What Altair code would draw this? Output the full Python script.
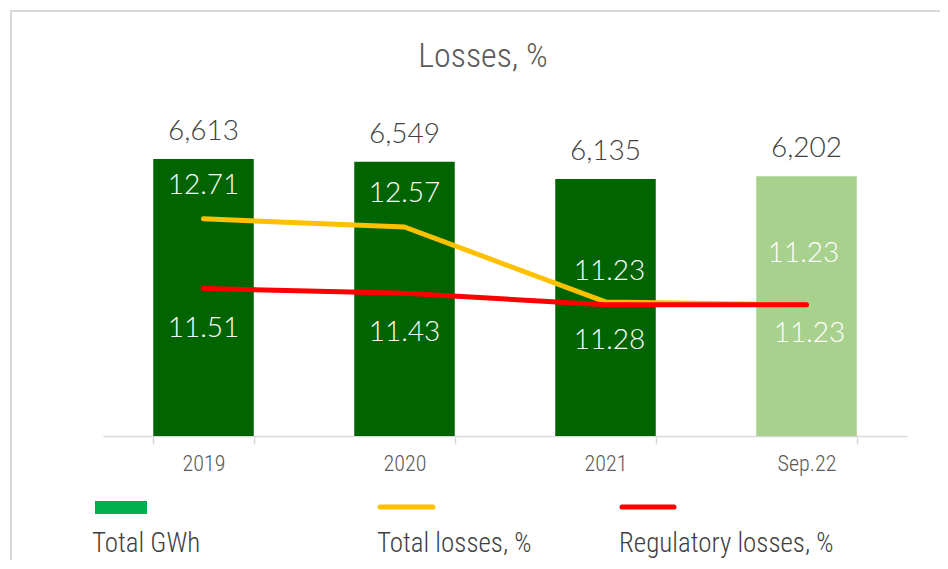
import altair as alt
import pandas as pd

categories = ["2019", "2020", "2021", "Sep.22"]
total_gwh = [6613, 6549, 6135, 6202]
total_losses = [12.71, 12.57, 11.28, 11.23]
regulatory_losses = [11.51, 11.43, 11.23, 11.23]
legend_labels = ["Total GWh", "Total losses, %", "Regulatory losses, %"]
title_text = "Losses, %"

df = pd.DataFrame({
    "cat": categories,
    "gwh": total_gwh,
    "total": total_losses,
    "reg": regulatory_losses,
})
one = pd.DataFrame({"k": [0]})

TEXT_FONT = "Liberation Sans Narrow, Roboto Condensed, Open Sans, sans-serif"
NUM_FONT = "Lato, Open Sans, sans-serif"

x_enc = alt.X(
    "cat:N",
    sort=categories,
    scale=alt.Scale(paddingInner=0.5, paddingOuter=0.25),
    axis=alt.Axis(
        title=None, labelAngle=0, tickBand="extent",
        domainColor="#D9D9D9", domainWidth=1.5, tickColor="#D9D9D9", tickWidth=1.5,
        tickSize=8, labelFont=TEXT_FONT, labelFontSize=22, labelFontWeight=300,
        labelColor="#595959", labelPadding=9,
    ),
)

y_bar = alt.Y("gwh:Q", scale=alt.Scale(domain=[0, 8000]), axis=None)
line_scale = alt.Scale(domain=[8.97, 14.74], zero=False)

base = alt.Chart(df)

bars = base.mark_bar().encode(
    x=x_enc,
    y=y_bar,
    color=alt.condition(alt.datum.cat == "Sep.22", alt.value("#A9D18E"), alt.value("#006400")),
)
bar_labels = base.mark_text(
    dy=-19, baseline="alphabetic", fontSize=28, font=NUM_FONT, fontWeight=300, color="#404040"
).encode(x=x_enc, y=y_bar, text=alt.Text("gwh:Q", format=","))

line_total = base.mark_line(color="#FFC000", strokeWidth=5, strokeCap="round", strokeJoin="round").encode(
    x=x_enc, y=alt.Y("total:Q", scale=line_scale, axis=None)
)
line_reg = base.mark_line(color="#FF0000", strokeWidth=5, strokeCap="round", strokeJoin="round").encode(
    x=x_enc, y=alt.Y("reg:Q", scale=line_scale, axis=None)
)


def line_label(field, cats, dy, dx=0):
    return base.transform_filter(
        alt.FieldOneOfPredicate(field="cat", oneOf=cats)
    ).mark_text(
        dy=dy, dx=dx, baseline="alphabetic", fontSize=28, font=NUM_FONT, fontWeight=300, color="white"
    ).encode(
        x=x_enc,
        y=alt.Y(f"{field}:Q", scale=line_scale, axis=None),
        text=alt.Text(f"{field}:Q", format=".2f"),
    )


labels = [
    line_label("total", ["2019", "2020"], -25),
    line_label("total", ["2021"], 47, 4),
    line_label("total", ["Sep.22"], 37, 3),
    line_label("reg", ["2019", "2020"], 48),
    line_label("reg", ["2021"], -25, 4),
    line_label("reg", ["Sep.22"], -43, -3),
]

ob = alt.Chart(one)
frame = ob.mark_rect(fill=None, stroke="#D9D9D9", strokeWidth=2).encode(
    x=alt.value(-92), x2=alt.value(900), y=alt.value(-90), y2=alt.value(500)
)
title = ob.mark_text(fontSize=34, font=TEXT_FONT, fontWeight=300, color="#595959", baseline="alphabetic").encode(
    x=alt.value(380), y=alt.value(-34), text=alt.value(title_text)
)
leg_rect = ob.mark_rect(color="#00B050").encode(
    x=alt.value(-8), x2=alt.value(44), y=alt.value(400), y2=alt.value(413)
)
leg_total = ob.mark_rule(color="#FFC000", strokeWidth=5, strokeCap="round").encode(
    x=alt.value(277), x2=alt.value(330), y=alt.value(406)
)
leg_reg = ob.mark_rule(color="#FF0000", strokeWidth=5, strokeCap="round").encode(
    x=alt.value(519), x2=alt.value(571), y=alt.value(406)
)


def leg_text(txt, xpos):
    return ob.mark_text(
        align="left", baseline="alphabetic", fontSize=27, font=TEXT_FONT, fontWeight=300, color="#404040"
    ).encode(x=alt.value(xpos), y=alt.value(451), text=alt.value(txt))


leg_texts = [leg_text(legend_labels[0], -11), leg_text(legend_labels[1], 274), leg_text(legend_labels[2], 516)]

chart = alt.layer(
    frame, bars, bar_labels, line_total, line_reg, *labels, title, leg_rect, leg_total, leg_reg, *leg_texts
).resolve_scale(y="independent").properties(
    width=804, height=335,
    autosize=alt.AutoSizeParams(type="none"),
    padding={"left": 95, "top": 93, "right": 33, "bottom": 124},
).configure_view(stroke=None)

chart.save("out.html", embed_options={"renderer": "svg", "actions": False})
